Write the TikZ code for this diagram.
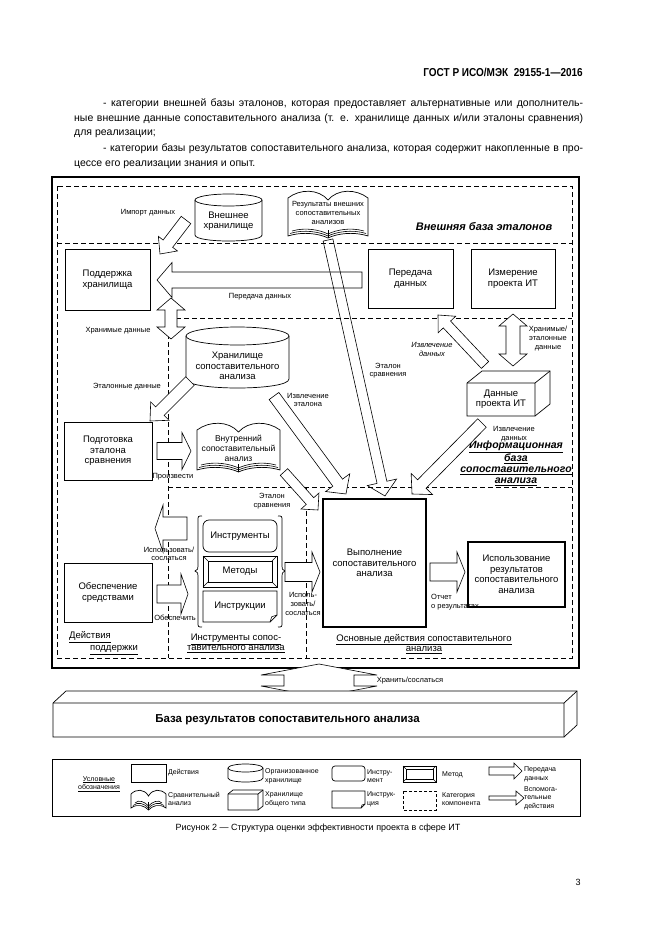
\documentclass[tikz,border=0pt]{standalone}
\usepackage{fontspec}
\setmainfont{Liberation Sans}
\newfontfamily\narrowfont[FakeStretch=0.87]{Liberation Sans}
\usetikzlibrary{calc}
\newcommand\ftxt{\fontsize{9.5}{10.5}\selectfont}
\newcommand\fsm{\fontsize{7.5}{8.6}\selectfont}
\newcommand\fmd{\fontsize{8.5}{10}\selectfont}
\newcommand\flg{\fontsize{7}{8.6}\selectfont}
\newcommand\ptext{\fontsize{10.5}{13}\selectfont}
\tikzset{
  shp/.style={draw=black, fill=white, line width=0.7pt},
  boxn/.style={draw=black, fill=white, line width=0.7pt, inner sep=1pt, align=center, font=\ftxt},
  thickbox/.style={boxn, line width=2.4pt},
  txt/.style={inner sep=0pt, align=center, font=\ftxt},
  lbl/.style={inner sep=0pt, align=center, font=\fsm},
  lgd/.style={inner sep=0pt, align=left, font=\flg, anchor=west},
  dashln/.style={line width=0.8pt, dash pattern=on 5pt off 3pt},
  barrowstyle/.style={line width=0.6pt, fill=white, draw=black},
}
% block arrow: [opts]{start}{end}{shaft half width}{head half width}{head length}
\newcommand\barrow[6][]{%
  \path (#2) coordinate (bas) (#3) coordinate (bae);
  \pgfpointdiff{\pgfpointanchor{bas}{center}}{\pgfpointanchor{bae}{center}}%
  \pgfgetlastxy{\badx}{\bady}%
  \pgfmathsetmacro\baang{atan2(\bady,\badx)}%
  \pgfmathsetmacro\balen{veclen(\badx,\bady)}%
  \begin{scope}[shift={(bas)},rotate=\baang,x=1pt,y=1pt]
    \filldraw[barrowstyle,#1] (0,#4) -- ({\balen-#6},#4) -- ({\balen-#6},#5) -- (\balen,0) -- ({\balen-#6},-#5) -- ({\balen-#6},-#4) -- (0,-#4) -- cycle;
  \end{scope}}
\newcommand\dbarrow[6][]{%
  \path (#2) coordinate (bas) (#3) coordinate (bae);
  \pgfpointdiff{\pgfpointanchor{bas}{center}}{\pgfpointanchor{bae}{center}}%
  \pgfgetlastxy{\badx}{\bady}%
  \pgfmathsetmacro\baang{atan2(\bady,\badx)}%
  \pgfmathsetmacro\balen{veclen(\badx,\bady)}%
  \begin{scope}[shift={(bas)},rotate=\baang,x=1pt,y=1pt]
    \filldraw[barrowstyle,#1] (0,0) -- (#6,#5) -- (#6,#4) -- ({\balen-#6},#4) -- ({\balen-#6},#5) -- (\balen,0) -- ({\balen-#6},-#5) -- ({\balen-#6},-#4) -- (#6,-#4) -- (#6,-#5) -- cycle;
  \end{scope}}
\newcommand\cylshape[5]{%
  \draw[shp] (#1,{#2+#5}) -- (#1,{#4-#5}) .. controls (#1,{#4+0.333*#5}) and (#3,{#4+0.333*#5}) .. (#3,{#4-#5}) -- (#3,{#2+#5});
  \draw[shp] ({(#1+#3)/2},{#2+#5}) ellipse [x radius={(#3-#1)/2}, y radius=#5];}
\newcommand\bookshape[5]{%
  \pgfmathsetmacro\bkw{#3-#1}\pgfmathsetmacro\bkc{(#1+#3)/2}%
  \draw[shp] (#1,#4) -- (#1,#2) .. controls ({#1+0.15*\bkw},{#2-#5*1.33}) and ({\bkc-0.12*\bkw},{#2-#5*1.33}) .. (\bkc,{#2+2}) .. controls ({\bkc+0.12*\bkw},{#2-#5*1.33}) and ({#3-0.15*\bkw},{#2-#5*1.33}) .. (#3,#2) -- (#3,#4) .. controls ({#3-0.2*\bkw},{#4-5}) and ({\bkc+0.1*\bkw},{#4-2}) .. (\bkc,{#4+2}) .. controls ({\bkc-0.1*\bkw},{#4-2}) and ({#1+0.2*\bkw},{#4-5}) .. cycle;
  \draw[line width=0.6pt] ({#1+2},{#4-2.5}) .. controls ({#1+0.2*\bkw},{#4-7}) and ({\bkc-0.1*\bkw},{#4-4}) .. (\bkc,{#4});
  \draw[line width=0.6pt] ({#1+4},{#4-5}) .. controls ({#1+0.22*\bkw},{#4-9}) and ({\bkc-0.1*\bkw},{#4-6}) .. (\bkc,{#4-2});
  \draw[line width=0.6pt] ({#3-2},{#4-2.5}) .. controls ({#3-0.2*\bkw},{#4-7}) and ({\bkc+0.1*\bkw},{#4-4}) .. (\bkc,{#4});
  \draw[line width=0.6pt] ({#3-4},{#4-5}) .. controls ({#3-0.22*\bkw},{#4-9}) and ({\bkc+0.1*\bkw},{#4-6}) .. (\bkc,{#4-2});
  \draw[line width=0.6pt] (\bkc,{#4-6}) -- (\bkc,{#4+2});}
\newcommand\cubeshape[6]{%
  \draw[shp] (#1,#2) -- ({#1+#5},{#2-#6}) -- ({#3+#5},{#2-#6}) -- ({#3+#5},{#4-#6}) -- (#3,#4) -- (#1,#4) -- cycle;
  \draw[line width=0.7pt] (#1,#2) -- (#3,#2) -- (#3,#4) (#3,#2) -- ({#3+#5},{#2-#6});}
\newcommand\docshape[5]{%
  \draw[shp] (#1,#2) -- (#3,#2) -- (#3,{#4-#5}) -- ({#3-#5},#4) -- (#1,#4) -- cycle;
  \draw[line width=0.6pt] ({#3-#5},#4) -- ({#3-#5*0.75},{#4-#5*0.75}) -- (#3,{#4-#5});}
\newcommand\bevshape[5]{%
  \draw[shp,line width=1pt] (#1,#2) rectangle (#3,#4);
  \draw[line width=0.6pt] ({#1+#5},{#2+#5}) rectangle ({#3-#5},{#4-#5});
  \draw[line width=0.6pt] (#1,#2)--({#1+#5},{#2+#5}) (#3,#2)--({#3-#5},{#2+#5}) (#1,#4)--({#1+#5},{#4-#5}) (#3,#4)--({#3-#5},{#4-#5});}
\begin{document}
\begin{tikzpicture}[x=1pt,y=-1pt]
\useasboundingbox (0,0) rectangle (661,936);
\fill[white] (0,0) rectangle (661,936);

% ---------- page text ----------
\node[anchor=base east,inner sep=0,font=\narrowfont\fontsize{11.5}{13}\selectfont\bfseries] (hdr) at (583,77) {ГОСТ Р ИСО/МЭК\ \ 29155-1—2016};
\node[anchor=base west,inner sep=0,font=\ptext] (t1) at (103,107) {\makebox[480pt][s]{- категории внешней базы эталонов, которая предоставляет альтернативные или дополнитель-}};
\node[anchor=base west,inner sep=0,font=\ptext] (t2) at (74,122) {\makebox[509pt][s]{ные внешние данные сопоставительного анализа (т. е. хранилище данных и/или эталоны сравнения)}};
\node[anchor=base west,inner sep=0,font=\ptext] (t3) at (74,136) {для реализации;};
\node[anchor=base west,inner sep=0,font=\ptext] (t4) at (103,152) {\makebox[480pt][s]{- категории базы результатов сопоставительного анализа, которая содержит накопленные в про-}};
\node[anchor=base west,inner sep=0,font=\ptext] (t5) at (74,167) {цессе его реализации знания и опыт.};

% ---------- frames ----------
\draw[line width=1.6pt] (52,177) rectangle (579,668);
\draw[dashln] (57,186) rectangle (572,658);
\draw[dashln] (57,243) -- (572,243);
\draw[dashln] (168,318) -- (572,318);
\draw[dashln] (168,318) -- (168,658);
\draw[dashln] (168,487) -- (572,487);
\draw[dashln] (306,487) -- (306,658);

% ---------- external base ----------
\cylshape{195}{194}{262}{241}{6}
\node[txt] (ext) at (228.5,221) {Внешнее\\хранилище};
\bookshape{288}{198}{368}{236}{7}
\node[lbl] (extbook) at (328,213) {Результаты внешних\\сопоставительных\\анализов};
\node[font=\fontsize{11}{13}\selectfont\bfseries\itshape,inner sep=0] (extlbl) at (484,227) {Внешняя база эталонов};

% ---------- support row ----------
\node[boxn,minimum width=85,minimum height=61] (podd) at (107.5,279.5) {Поддержка\\хранилища};
\node[boxn,minimum width=85,minimum height=59] (pered) at (410.5,278.5) {Передача\\данных};
\node[boxn,minimum width=84,minimum height=59] (izmer) at (513,278.5) {Измерение\\проекта ИТ};

% ---------- info base ----------
\cylshape{186}{327}{289}{388}{9}
\node[txt] (hran) at (237.5,366) {Хранилище\\сопоставительного\\анализа};
\cubeshape{467}{383}{535}{416}{15}{12}
\node[txt] (dpit) at (501,399) {Данные\\проекта ИТ};
\node[font=\fontsize{10.5}{11}\selectfont\bfseries\itshape,inner sep=0,align=center] (infolbl) at (516,463.5) {\underline{Информационная}\\\underline{база}\\\underline{сопоставительного}\\\underline{анализа}};

% ---------- support column ----------
\node[boxn,minimum width=88,minimum height=58] (podg) at (108,451) {Подготовка\\эталона\\сравнения};
\node[boxn,minimum width=88,minimum height=59] (obesp) at (108,592.5) {Обеспечение\\средствами};
\node[font=\ftxt,inner sep=0,anchor=west] (supl1) at (69,637) {\underline{Действия}};
\node[font=\ftxt,inner sep=0,anchor=west] (supl2) at (90,650) {\underline{поддержки}};

% internal book
\bookshape{197}{430}{280}{470}{7}
\node[font=\fmd,inner sep=0,align=center] (intbook) at (238.5,448) {Внутренний\\сопоставительный\\анализ};

% ---------- tools ----------
\draw[line width=0.7pt] (202,516) .. controls (198,516) .. (198,521) -- (198,566) .. controls (198,569) .. (195,571) .. controls (198,573) .. (198,576) -- (198,622) .. controls (198,627) .. (202,627);
\draw[line width=0.7pt] (278,516) .. controls (282,516) .. (282,521) -- (282,566) .. controls (282,569) .. (285,571) .. controls (282,573) .. (282,576) -- (282,622) .. controls (282,627) .. (278,627);
\node[boxn,rounded corners=6pt,minimum width=74,minimum height=32] (instr) at (240,536) {Инструменты};
\bevshape{203}{556}{277}{587}{5}
\node[txt] (metod) at (240,571.5) {Методы};
\docshape{203}{591}{277}{622}{7}
\node[txt] (instruk) at (240,606.5) {Инструкции};
\node[font=\ftxt,inner sep=0,align=center] (toolsl) at (236,643.5) {\underline{Инструменты сопос-}\\\underline{тавительного анализа}};

% ---------- core ----------
\node[thickbox,minimum width=103,minimum height=128] (vyp) at (374.5,563) {Выполнение\\сопоставительного\\анализа};
\node[thickbox,minimum width=97,minimum height=65] (isp) at (516.5,574.5) {Использование\\результатов\\сопоставительного\\анализа};
\node[font=\ftxt,inner sep=0,align=center] (corel) at (424,644) {\underline{Основные действия сопоставительного}\\\underline{анализа}};

% ---------- block arrows ----------
\barrow{186,220}{160,254}{6}{12}{13}
\barrow{362,280}{157,280}{8}{17.5}{15}
\barrow[fill=none]{328,240}{385,496}{5}{15}{14}
\dbarrow{171,298}{171,339}{6}{14}{12}
\barrow{190,381}{150,421}{6}{13}{14}
\barrow{274,396}{346,494}{6}{15}{14}
\barrow{482,423}{412,494}{6}{15}{14}
\barrow{485,365}{438,315}{5}{12}{13}
\dbarrow{513,366}{513,314}{7}{14}{12}
\barrow{157,451}{191,451}{8.5}{18.5}{9}
\barrow{187,528.5}{155,528.5}{11.5}{23.5}{8}
\barrow{157,594}{188,594}{9}{20}{7}
\barrow{285,572}{320,572}{9.5}{20}{8}
\barrow{430,572}{465,572}{9}{20}{8}
\barrow{284,472}{318,510}{5}{12}{12}
\dbarrow{319,664}{319,697}{35}{58}{11}

% ---------- labels ----------
\node[lbl] (l1) at (148,213) {Импорт данных};
\node[lbl] (l2) at (260,297) {Передача данных};
\node[lbl] (l3) at (118,331) {Хранимые данные};
\node[lbl] (l4) at (127,387) {Эталонные данные};
\node[lbl] (l5) at (308,400) {Извлечение\\эталона};
\node[lbl] (l6) at (388,370.5) {Эталон\\сравнения};
\node[lbl,font=\fsm\itshape] (l7) at (432,349.5) {Извлечение\\данных};
\node[lbl] (l8) at (548,338.5) {Хранимые/\\эталонные\\данные};
\node[lbl] (l9) at (514,434) {Извлечение\\данных};
\node[lbl] (l10) at (173,477) {Произвести};
\node[lbl] (l11) at (272,501) {Эталон\\сравнения};
\node[lbl] (l12) at (169,554) {Использовать/\\сослаться};
\node[lbl] (l13) at (175,618) {Обеспечить};
\node[lbl] (l14) at (303,604) {Исполь-\\зовать/\\сослаться};
\node[lbl,align=left,anchor=west] (l15) at (431,602) {Отчет\\о результатах};
\node[lbl] (l16) at (410,681) {Хранить/сослаться};

% ---------- result base ----------
\cubeshape{53}{703}{564}{737}{13}{12}
\node[font=\fontsize{11.5}{13}\selectfont\bfseries,inner sep=0] (rbase) at (287.5,720) {База результатов сопоставительного анализа};

% ---------- legend ----------
\draw[line width=0.7pt] (52,759) rectangle (580,816);
\node[font=\flg,inner sep=0,align=center] (lgt) at (99,784) {\underline{Условные}\\\underline{обозначения}};
\draw[line width=0.6pt] (131,764) rectangle (166,782);
\node[lgd] (lg1) at (168,773) {Действия};
\bookshape{131}{794}{166}{808}{4}
\node[lgd] (lg2) at (168,799) {Сравнительный\\анализ};
\cylshape{228}{764}{263}{782}{4}
\node[lgd] (lg3) at (265,776) {Организованное\\хранилище};
\cubeshape{228}{794}{258}{810}{5}{4}
\node[lgd] (lg4) at (265,799) {Хранилище\\общего типа};
\draw[shp,rounded corners=3pt] (332,766) rectangle (365,781);
\node[lgd] (lg5) at (367,776) {Инстру-\\мент};
\docshape{332}{791}{365}{808}{4}
\node[lgd] (lg6) at (367,799) {Инструк-\\ция};
\bevshape{403}{766}{436}{782}{3}
\node[lgd] (lg7) at (442,775) {Метод};
\draw[dashln,line width=0.6pt,dash pattern=on 3pt off 2pt] (403,791) rectangle (436,810);
\node[lgd] (lg8) at (442,799) {Категория\\компонента};
\barrow{489,771}{522,771}{4}{8}{8}
\node[lgd] (lg9) at (524,774) {Передача\\данных};
\barrow{489,798}{524,798}{2}{7}{8}
\node[lgd] (lg10) at (524,798) {Вспомога-\\тельные\\действия};

% ---------- caption ----------
\node[font=\fontsize{9}{11}\selectfont,inner sep=0] (cap) at (318,828) {Рисунок 2 — Структура оценки эффективности проекта в сфере ИТ};
\node[font=\fontsize{9}{11}\selectfont,inner sep=0] (pg) at (578,882) {3};
\end{tikzpicture}
\end{document}
